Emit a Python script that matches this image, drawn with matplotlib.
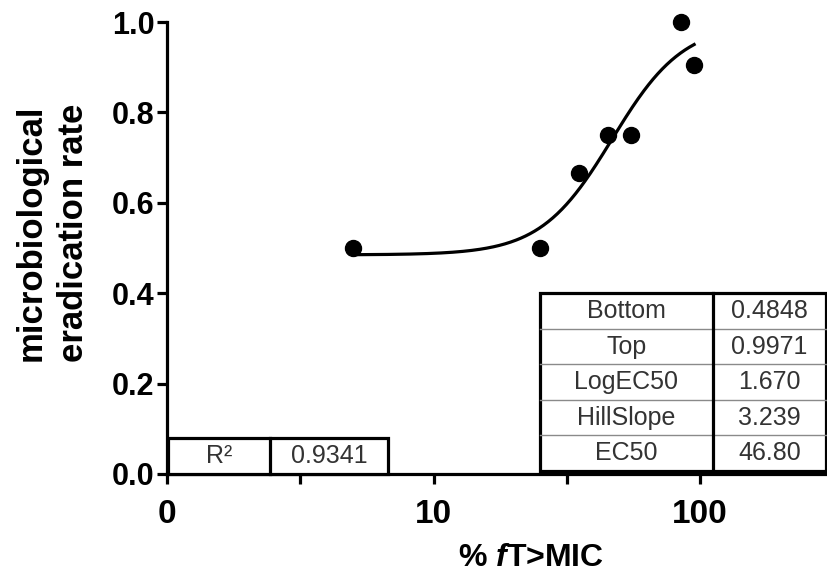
import numpy as np
import matplotlib
matplotlib.use("Agg")
import matplotlib.pyplot as plt
from matplotlib.patches import Rectangle

plt.rcParams.update(
    {
        "font.family": ["Liberation Sans", "DejaVu Sans"],
        "mathtext.fontset": "custom",
        "mathtext.it": "Liberation Sans:bold:italic",
        "mathtext.rm": "Liberation Sans:bold",
        "axes.unicode_minus": False,
    }
)

# observed eradication vs %fT>MIC
ft_mic = [5, 25, 35, 45, 55, 85, 95]
eradication = [0.50, 0.50, 0.667, 0.75, 0.75, 1.00, 0.905]

# fitted sigmoid parameters (shown in the table)
param_names = ["Bottom", "Top", "LogEC50", "HillSlope", "EC50"]
param_values = ["0.4848", "0.9971", "1.670", "3.239", "46.80"]
bottom, top, log_ec50, hill = 0.4848, 0.9971, 1.670, 3.239
r2_label, r2_value = "R²", "0.9341"

x_ticks = [1, 10 ** 0.5, 10, 10 ** 1.5, 100]
x_tick_labels = ["0", "", "10", "", "100"]
y_ticks = [0.0, 0.2, 0.4, 0.6, 0.8, 1.0]

fig = plt.figure(figsize=(8.28, 5.75), dpi=100)
ax = fig.add_axes([0.2017, 0.1757, 0.7983, 0.786])

# fitted curve over the observed range
xf = np.logspace(np.log10(min(ft_mic)), np.log10(max(ft_mic)), 300)
yf = bottom + (top - bottom) / (1 + 10 ** ((log_ec50 - np.log10(xf)) * hill))
ax.plot(xf, yf, color="black", lw=2.3, zorder=3)
ax.plot(ft_mic, eradication, "o", color="black", ms=11.5, zorder=4, clip_on=False)

ax.set_xscale("log")
ax.set_xlim(1, 10 ** 2.48)
ax.set_ylim(0, 1.0)
ax.set_xticks(x_ticks)
ax.set_xticklabels(x_tick_labels)
ax.xaxis.set_minor_locator(matplotlib.ticker.NullLocator())
ax.set_yticks(y_ticks)
ax.set_yticklabels([f"{v:.1f}" for v in y_ticks])

for side in ["top", "right"]:
    ax.spines[side].set_visible(False)
for side in ["left", "bottom"]:
    ax.spines[side].set_linewidth(2.3)
ax.tick_params(axis="both", width=2.3, length=7)
ax.tick_params(axis="x", pad=11, labelsize=24)
ax.tick_params(axis="y", pad=2, labelsize=22)
for lbl in ax.get_xticklabels() + ax.get_yticklabels():
    lbl.set_fontweight("bold")

ax.text(-0.206, 0.533, "microbiological", transform=ax.transAxes,
        rotation=90, ha="center", va="center", fontsize=25, fontweight="bold")
ax.text(-0.141, 0.533, "eradication rate", transform=ax.transAxes,
        rotation=90, ha="center", va="center", fontsize=25, fontweight="bold")
ax.text(0.551, -0.185, r"% $\mathit{f}$T>MIC", transform=ax.transAxes,
        ha="center", va="center", fontsize=23, fontweight="bold")

# parameter table (axes fraction coords)
tx0, tx1, tx2 = 0.564, 0.826, 0.997
ty0, ty1 = 0.0066, 0.400
n = len(param_names)
rh = (ty1 - ty0) / n
for i, (name, val) in enumerate(zip(param_names, param_values)):
    yc = ty1 - (i + 0.5) * rh
    ax.text((tx0 + tx1) / 2, yc, name, transform=ax.transAxes, ha="center",
            va="center", fontsize=18, color="#333333", zorder=6)
    ax.text((tx1 + tx2) / 2, yc, val, transform=ax.transAxes, ha="center",
            va="center", fontsize=18, color="#333333", zorder=6)
    if i > 0:
        yl = ty1 - i * rh
        ax.plot([tx0, tx2], [yl, yl], transform=ax.transAxes, color="#8a8a8a",
                lw=1.0, clip_on=False, zorder=5)
ax.add_patch(Rectangle((tx0, ty0), tx2 - tx0, ty1 - ty0, transform=ax.transAxes,
                       facecolor="white", edgecolor="black", lw=2.3,
                       clip_on=False, zorder=4.5))
ax.plot([tx1, tx1], [ty0, ty1], transform=ax.transAxes, color="black", lw=2.3,
        clip_on=False, zorder=5)

# R² table
rx0, rx1, rx2 = 0.0015, 0.156, 0.334
ry0, ry1 = 0.0, 0.0796
ax.add_patch(Rectangle((rx0, ry0), rx2 - rx0, ry1 - ry0, transform=ax.transAxes,
                       facecolor="white", edgecolor="black", lw=2.3,
                       clip_on=False, zorder=4.5))
ax.plot([rx1, rx1], [ry0, ry1], transform=ax.transAxes, color="black", lw=2.3,
        clip_on=False, zorder=5)
ax.text((rx0 + rx1) / 2, (ry0 + ry1) / 2, r2_label, transform=ax.transAxes,
        ha="center", va="center", fontsize=18, color="#333333", zorder=6)
ax.text((rx1 + rx2) / 2, (ry0 + ry1) / 2, r2_value, transform=ax.transAxes,
        ha="center", va="center", fontsize=18, color="#333333", zorder=6)

fig.savefig("out.png", dpi=100)
